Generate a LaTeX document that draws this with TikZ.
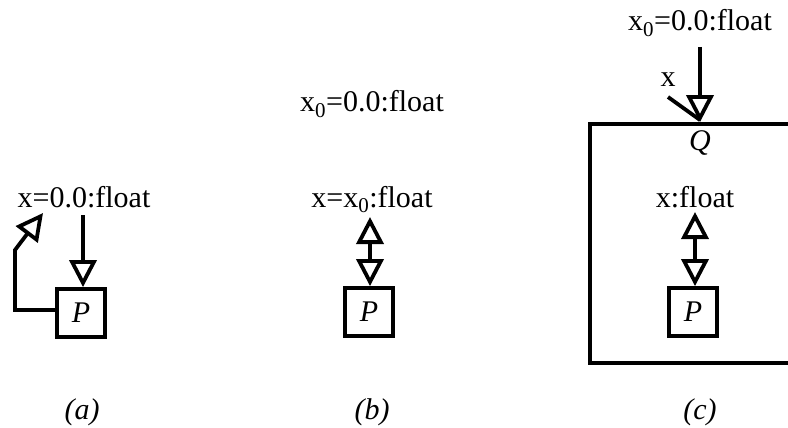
\documentclass[tikz,border=0pt]{standalone}
\usepackage{fontspec}
\setmainfont{Liberation Serif}
\usetikzlibrary{arrows.meta, positioning}

\begin{document}
\begin{tikzpicture}[x=1pt,y=-1pt,line width=3.8pt,
  txt/.style={font=\fontsize{30}{34}\selectfont,inner sep=0pt,anchor=base},
  captxt/.style={font=\fontsize{30}{34}\selectfont\itshape,inner sep=0pt,anchor=base},
  pbox/.style={draw,minimum size=48pt,inner sep=0pt,font=\fontsize{30}{34}\selectfont\itshape},
  flow/.style={-{Triangle[open,length=27pt,width=27pt]}},
  both/.style={{Triangle[open,length=27pt,width=27pt]}-{Triangle[open,length=27pt,width=27pt]}}]
  \clip (0,0) rectangle (788,428);
  % (a)
  \node[pbox] (boxA) at (81,313) {P};
  \node[txt] (lblA) at (84,207) {x=0.0:float};
  \draw[flow] (83,215) -- (boxA.north -| 83,0);
  \coordinate (fbTip) at (43,213);
  \draw[flow,line join=miter] (boxA.west |- 0,310) -- (15,310) -- (15,250) -- (fbTip);
  \node[captxt] (capA) at (82,419) {(a)};
  % (b)
  \node[pbox] (boxB) at (369,312) {P};
  \node[txt] (lblB0) at (372,112) {x\textsubscript{0}=0.0:float};
  \node[txt] (lblB) at (372,207) {x=x\textsubscript{0}:float};
  \draw[both] (370,217) -- (boxB.north -| 370,0);
  \node[captxt] (capB) at (372,419) {(b)};
  % (c)
  \node[draw,minimum width=230pt,minimum height=239pt,inner sep=0pt] (boxQ) at (705,243.5) {};
  \node[txt,font=\fontsize{30}{34}\selectfont\itshape] (lblQ) at (700,150) {Q};
  \node[txt] (lblC0) at (700,31) {x\textsubscript{0}=0.0:float};
  \node[txt] (xin) at (668,87) {x};
  \coordinate (tipC) at (700,120);
  \draw[flow] (700,47) -- (boxQ.north -| 700,0);
  \draw (668,97) -- (tipC);
  \node[pbox] (boxC) at (693,312) {P};
  \node[txt] (lblC) at (695,207) {x:float};
  \draw[both] (695,212) -- (boxC.north -| 695,0);
  \node[captxt] (capC) at (700,419) {(c)};
\end{tikzpicture}
\end{document}
